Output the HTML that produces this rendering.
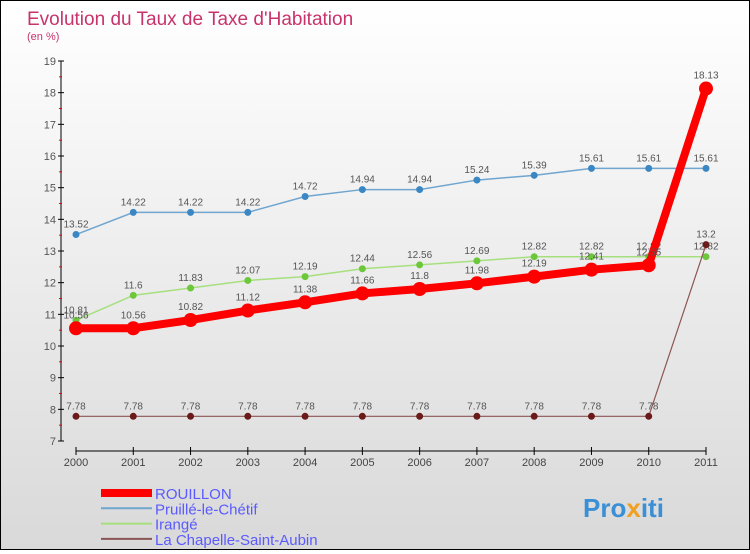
<!DOCTYPE html>
<html><head><meta charset="utf-8"><style>
body{margin:0;}
#c{width:748px;height:548px;border:1px solid #000;background:linear-gradient(#fff,#d9d9d9);position:relative;font-family:"Liberation Sans",sans-serif;}
svg text{font-family:"Liberation Sans",sans-serif;}
</style></head><body>
<div id="c">
<svg id="s" width="748" height="548">
<text x="26" y="24" font-size="19" fill="#c8336b">Evolution du Taux de Taxe d'Habitation</text>
<text x="26" y="39" font-size="11" fill="#c8336b">(en %)</text>
<g id="axes"></g><g id="series"></g><g id="legend"></g>
<text x="582" y="516" font-size="26" font-weight="bold" fill="#3b8fd6">Pro<tspan fill="#f0a020">x</tspan>iti</text>
</svg></div>
<script>
const years=[2000,2001,2002,2003,2004,2005,2006,2007,2008,2009,2010,2011];
const rouillon=[10.56,10.56,10.82,11.12,11.38,11.66,11.8,11.98,12.19,12.41,12.55,18.13];
const pruille=[13.52,14.22,14.22,14.22,14.72,14.94,14.94,15.24,15.39,15.61,15.61,15.61];
const irange=[10.81,11.6,11.83,12.07,12.19,12.44,12.56,12.69,12.82,12.82,12.82,12.82];
const chapelle=[7.78,7.78,7.78,7.78,7.78,7.78,7.78,7.78,7.78,7.78,7.78,13.2];
const yTicks=[7,8,9,10,11,12,13,14,15,16,17,18,19];
const NS='http://www.w3.org/2000/svg';
const xs=i=>75+i*(630/11);
const ys=v=>440-(v-7)*(380/12);
function mk(tag,attrs,parent,txt){const e=document.createElementNS(NS,tag);for(const k in attrs)e.setAttribute(k,attrs[k]);if(txt!==undefined)e.textContent=txt;parent.appendChild(e);return e;}
const ax=document.getElementById('axes');
let e=mk('line',{x1:60,y1:ys(19),x2:60,y2:ys(7),stroke:'#000'},ax);


yTicks.forEach(t=>{mk('line',{x1:57,x2:63,y1:ys(t),y2:ys(t),stroke:'#000'},ax);
if(t<19)mk('line',{x1:58,x2:61,y1:ys(t+0.5),y2:ys(t+0.5),stroke:'#e00'},ax);
const l=mk('text',{x:55,y:ys(t)+4,'font-size':11,fill:'#555','text-anchor':'end'},ax,t);

});
e=mk('line',{x1:75,y1:450,x2:705,y2:450,stroke:'#000'},ax);


years.forEach((y,i)=>{mk('line',{x1:xs(i),x2:xs(i),y1:446,y2:454,stroke:'#000'},ax);
const l=mk('text',{x:xs(i),y:465,'font-size':11,fill:'#444','text-anchor':'middle'},ax,y);

});
const sg=document.getElementById('series');
const series=[
{name:'pruille',d:pruille,c:'#6fa5cf',w:1.5,pc:'#3a87c4',r:3.5},
{name:'irange',d:irange,c:'#a6e07e',w:1.5,pc:'#6cc83a',r:3.5},
{name:'chapelle',d:chapelle,c:'#8c5555',w:1.2,pc:'#6b1a1a',r:3.5},
{name:'rouillon',d:rouillon,c:'#f00',w:8,pc:'#f00',r:7}];
series.forEach(s=>{
const p=mk('polyline',{points:s.d.map((v,i)=>xs(i)+','+ys(v)).join(' '),fill:'none',stroke:s.c,'stroke-width':s.w},sg);


s.d.forEach((v,i)=>{const c=mk('circle',{cx:xs(i),cy:ys(v),r:s.r,fill:s.pc},sg);


const t=mk('text',{x:xs(i),y:ys(v)-(s.name=='rouillon'?10:7),'font-size':10,fill:'#555','text-anchor':'middle'},sg,v);

});});
const lg=document.getElementById('legend');
const leg=[['ROUILLON','#f00',8],['Pruillé-le-Chétif','#6fa5cf',2],['Irangé','#a6e07e',2],['La Chapelle-Saint-Aubin','#8c5555',2]];
leg.forEach((l,i)=>{const y=492+i*15.3;
const ln=mk('line',{x1:100,x2:151,y1:y,y2:y,stroke:l[1],'stroke-width':l[2]},lg);


const t=mk('text',{x:154,y:y+6,'font-size':15,fill:'#5a5aff'},lg,l[0]);

});
</script></body></html>
